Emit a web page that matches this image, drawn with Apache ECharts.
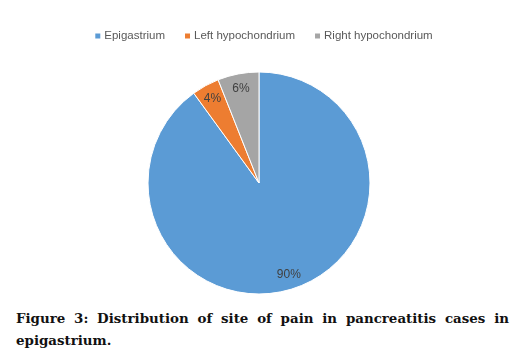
<!DOCTYPE html>
<html><head><meta charset="utf-8">
<script src="https://cdn.jsdelivr.net/npm/echarts@6/dist/echarts.min.js"></script>
<style>
html,body{margin:0;padding:0;background:#fff;width:526px;height:357px;overflow:hidden;}
#chart{position:absolute;left:0;top:0;width:526px;height:300px;}
#cap{position:absolute;left:16px;top:307px;width:493px;font-family:"DejaVu Serif",serif;font-weight:bold;font-size:13.4px;line-height:22px;color:#111;text-align:justify;text-align-last:left;}
</style></head>
<body>
<div id="chart"></div>
<div id="cap">Figure 3: Distribution of site of pain in pancreatitis cases in epigastrium.</div>
<script>
const categories = ["Epigastrium", "Left hypochondrium", "Right hypochondrium"];
const values = [90, 4, 6];
const colors = ["#5b9bd5", "#ed7d31", "#a5a5a5"];

const FONT = "'Liberation Sans', Arial, sans-serif";
const data = categories.map((c, i) => ({ name: c, value: values[i], itemStyle: { color: colors[i] } }));
const chart = echarts.init(document.getElementById('chart'));
chart.setOption({
  animation: false,
  legend: {
    top: 25, left: 'center',
    itemWidth: 7, itemHeight: 7, itemGap: 18,
    icon: 'rect',
    textStyle: { fontFamily: FONT, fontSize: 11.5, color: '#595959', padding: [0, 0, 0, -2] },
    data: categories
  },
  series: [
    {
      type: 'pie', center: [259, 183], radius: [0, 111],
      startAngle: 90, clockwise: true,
      itemStyle: { borderColor: '#fff', borderWidth: 1 },
      label: { show: false }, labelLine: { show: false },
      data: data
    },
    {
      type: 'pie', center: [259, 183], radius: [76, 111],
      startAngle: 90, clockwise: true, silent: true,
      itemStyle: { color: 'rgba(0,0,0,0)' },
      label: { show: true, position: 'inside', formatter: p => p.value + '%',
        fontFamily: FONT, fontSize: 12, color: '#404040' },
      labelLine: { show: false },
      data: categories.map((c, i) => ({ name: c, value: values[i] }))
    }
  ]
});
</script>
</body></html>
